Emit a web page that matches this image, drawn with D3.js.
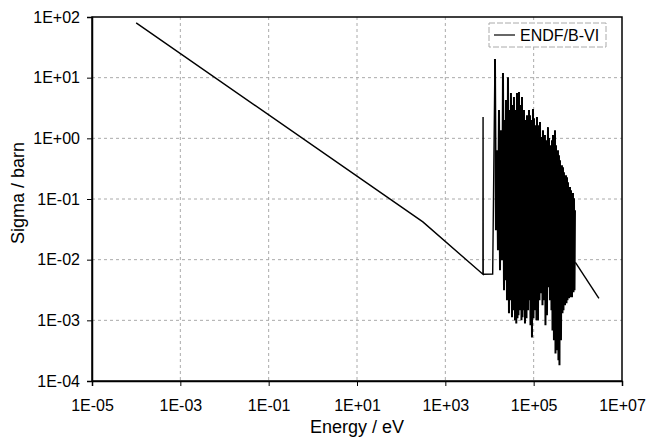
<!DOCTYPE html>
<html>
<head>
<meta charset="utf-8">
<script src="https://cdn.jsdelivr.net/npm/d3@7"></script>
<style>
  body { margin: 0; background: #fff; }
  text { font-family: 'Liberation Sans', Arial, sans-serif; fill: #000; }
</style>
</head>
<body>
<div id="chart"></div>
<script>
// Smooth part below the resonance region (1/v line, kink, first spike, flat step)
const lowEnergy = [1e-4, 310, 7100, 7150, 7200, 1.18e4]
const lowSigma = [80, 0.042, 5.74e-3, 2.24, 5.74e-3, 5.8e-3]

// Resolved resonance region: peak tops
const peakEnergy = [1.33e4, 1.476e4, 1.64e4, 1.82e4, 2.02e4, 2.24e4, 2.36e4, 2.62e4, 2.91e4, 3.06e4,
  3.40e4, 3.58e4, 3.98e4, 4.19e4, 4.42e4, 4.65e4, 5.16e4, 5.44e4, 5.73e4, 6.04e4,
  6.70e4, 7.06e4, 7.84e4, 8.25e4, 8.70e4, 9.65e4, 1.017e5, 1.128e5, 1.188e5, 1.319e5,
  1.39e5, 1.542e5, 1.625e5, 1.80e5, 1.90e5, 2.11e5, 2.22e5, 2.47e5, 2.60e5, 2.74e5,
  3.04e5, 3.20e5, 3.55e5, 3.74e5, 3.94e5, 4.37e5, 4.61e5, 4.85e5, 5.39e5, 5.68e5,
  5.98e5, 6.64e5, 7.00e5, 7.76e5, 8.18e5, 8.61e5]
const peakSigma = [20.3, 0.638, 2.92, 1.36, 11.9, 2.00, 4.27, 10.2, 2.92, 5.57,
  3.53, 4.79, 2.92, 5.57, 4.27, 5.78, 3.53, 4.79, 2.41, 2.92,
  2.00, 2.41, 2.92, 2.41, 2.00, 3.03, 2.15, 1.65, 2.24, 1.65,
  1.85, 1.05, 1.36, 1.13, 0.933, 1.53, 1.01, 0.772, 0.933, 1.13,
  1.36, 0.772, 0.638, 0.528, 0.436, 0.361, 0.335, 0.277, 0.247, 0.229,
  0.189, 0.157, 0.140, 0.125, 0.103, 0.0653]

// Valleys between the peaks
const valleyEnergy = [1.40e4, 1.555e4, 1.73e4, 1.92e4, 2.13e4, 2.30e4, 2.49e4, 2.76e4, 2.99e4, 3.23e4,
  3.45e4, 3.78e4, 4.04e4, 4.30e4, 4.53e4, 4.90e4, 5.30e4, 5.58e4, 5.88e4, 6.36e4,
  6.88e4, 7.44e4, 8.04e4, 8.47e4, 9.16e4, 9.91e4, 1.07e5, 1.157e5, 1.252e5, 1.353e5,
  1.464e5, 1.583e5, 1.712e5, 1.85e5, 2.00e5, 2.16e5, 2.34e5, 2.53e5, 2.67e5, 2.88e5,
  3.12e5, 3.37e5, 3.64e5, 3.84e5, 4.15e5, 4.49e5, 4.73e5, 5.12e5, 5.53e5, 5.83e5,
  6.30e5, 6.81e5, 7.37e5, 7.97e5, 8.40e5]
const valleySigma = [0.0306, 0.0143, 6.7e-3, 9.8e-3, 3.13e-3, 4.57e-3, 2.14e-3, 1.31e-3, 2.14e-3, 1.12e-3,
  1.46e-3, 1.00e-3, 8.9e-4, 1.08e-3, 1.21e-3, 1.46e-3, 1.00e-3, 1.12e-3, 1.46e-3, 8.9e-4,
  1.08e-3, 1.46e-3, 2.14e-3, 8.3e-4, 5.2e-4, 1.08e-3, 1.46e-3, 1.00e-3, 1.00e-3, 2.14e-3,
  2.79e-3, 1.77e-3, 2.14e-3, 8.3e-4, 1.21e-3, 3.51e-3, 2.14e-3, 1.46e-3, 6.8e-4, 4.7e-4,
  2.85e-4, 3.2e-4, 2.19e-4, 1.81e-4, 4.7e-4, 1.31e-3, 1.46e-3, 1.77e-3, 1.91e-3, 2.14e-3,
  2.31e-3, 2.40e-3, 2.40e-3, 2.90e-3, 3.13e-3]

// Smooth tail above the resonance region
const tailEnergy = [8.8e5, 3.0e6]
const tailSigma = [9.0e-3, 2.3e-3]

const xTicks = [1e-5, 1e-3, 1e-1, 1e1, 1e3, 1e5, 1e7]
const yTicks = [1e-4, 1e-3, 1e-2, 1e-1, 1e0, 1e1, 1e2]
const seriesName = 'ENDF/B-VI'

const W = 650
const H = 440
const margin = { top: 17, right: 28, bottom: 59, left: 92 }
const width = W - margin.left - margin.right
const height = H - margin.top - margin.bottom

// Format like 1E+02 / 1E-03
const sci = d => {
  const e = Math.round(Math.log10(d))
  return '1E' + (e < 0 ? '-' : '+') + String(Math.abs(e)).padStart(2, '0')
}

const svg = d3.select('#chart').append('svg')
  .attr('width', W)
  .attr('height', H)

svg.append('rect').attr('width', W).attr('height', H).attr('fill', '#fff')

const g = svg.append('g').attr('transform', `translate(${margin.left},${margin.top})`)

const x = d3.scaleLog().domain([1e-5, 1e7]).range([0, width])
const y = d3.scaleLog().domain([1e-4, 1e2]).range([height, 0])

// Grid lines
g.append('g').selectAll('line')
  .data(yTicks.slice(1, -1))
  .enter().append('line')
  .attr('x1', 0).attr('x2', width)
  .attr('y1', d => y(d)).attr('y2', d => y(d))
  .attr('stroke', '#aaa').attr('stroke-dasharray', '3,3')
g.append('g').selectAll('line')
  .data(xTicks.slice(1, -1))
  .enter().append('line')
  .attr('y1', 0).attr('y2', height)
  .attr('x1', d => x(d)).attr('x2', d => x(d))
  .attr('stroke', '#aaa').attr('stroke-dasharray', '3,3')

// Frame
g.append('rect')
  .attr('width', width).attr('height', height)
  .attr('fill', 'none').attr('stroke', '#000').attr('stroke-width', 1.5)

// Axes
const xAxis = g.append('g')
  .attr('transform', `translate(0,${height})`)
  .call(d3.axisBottom(x).tickValues(xTicks).tickFormat(sci).tickSize(5).tickPadding(14))
const yAxis = g.append('g')
  .call(d3.axisLeft(y).tickValues(yTicks).tickFormat(sci).tickSize(5).tickPadding(7))
;[xAxis, yAxis].forEach(a => {
  a.select('.domain').attr('stroke', '#000').attr('stroke-width', 1.5)
  a.selectAll('text').attr('font-size', 16).attr('font-family', "'Liberation Sans', Arial, sans-serif")
  a.selectAll('.tick line').attr('stroke', '#000')
})

// Build the series pieces
const low = lowEnergy.map((e, i) => [e, lowSigma[i]])
const res = peakEnergy.map((e, i) => [e, peakSigma[i]])
  .concat(valleyEnergy.map((e, i) => [e, valleySigma[i]]))
  .sort((a, b) => a[0] - b[0])
const tail = tailEnergy.map((e, i) => [e, tailSigma[i]])

const line = d3.line().x(d => x(d[0])).y(d => y(d[1]))
// smooth part and tail
g.append('path')
  .datum(low.concat([res[0]]))
  .attr('d', line)
  .attr('fill', 'none').attr('stroke', '#000').attr('stroke-width', 1.4)
g.append('path')
  .datum(tail)
  .attr('d', line)
  .attr('fill', 'none').attr('stroke', '#000').attr('stroke-width', 1.4)
// dense resonance region, drawn heavier so it reads as a solid block
g.append('path')
  .datum(res)
  .attr('d', line)
  .attr('fill', 'none').attr('stroke', '#000').attr('stroke-width', 2)

// Legend
const lg = g.append('g').attr('transform', `translate(${width - 133},6)`)
lg.append('rect')
  .attr('width', 117).attr('height', 24)
  .attr('fill', '#fff').attr('stroke', '#aaa').attr('stroke-dasharray', '6,2')
lg.append('line')
  .attr('x1', 5).attr('x2', 26).attr('y1', 12).attr('y2', 12)
  .attr('stroke', '#000').attr('stroke-width', 1.2)
lg.append('text')
  .attr('x', 31).attr('y', 18)
  .attr('font-size', 16)
  .text(seriesName)

// Axis titles
svg.append('text')
  .attr('x', margin.left + width / 2).attr('y', 433)
  .attr('text-anchor', 'middle').attr('font-size', 18)
  .text('Energy / eV')
svg.append('text')
  .attr('transform', `translate(24,${margin.top + height / 2 - 6}) rotate(-90)`)
  .attr('text-anchor', 'middle').attr('font-size', 18)
  .text('Sigma / barn')
</script>
</body>
</html>
